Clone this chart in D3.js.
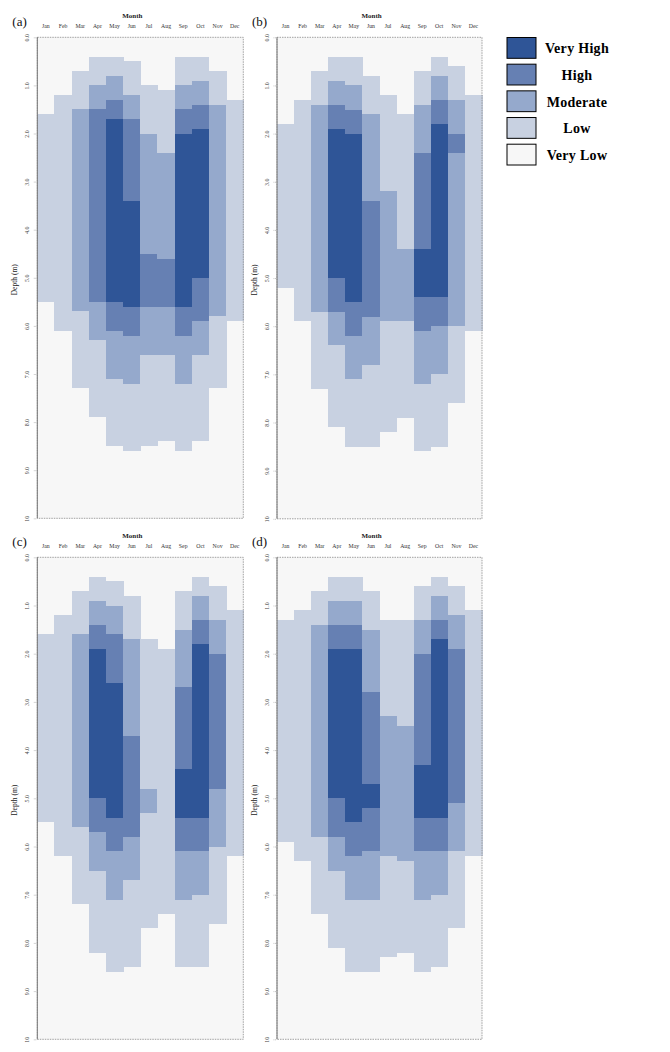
<!DOCTYPE html>
<html>
<head>
<meta charset="utf-8">
<script src="https://cdn.jsdelivr.net/npm/d3@7/dist/d3.min.js"></script>
<style>
  html, body { margin: 0; padding: 0; background: #ffffff; }
  svg { display: block; }
  text { font-family: "Liberation Serif", "DejaVu Serif", serif; }
</style>
</head>
<body>
<div id="chart"></div>
<script>
// ---------------- data ----------------
const months = ["Jan","Feb","Mar","Apr","May","Jun","Jul","Aug","Sep","Oct","Nov","Dec"];
const levelNames = ["Very Low","Low","Moderate","High","Very High"];
const levelColors = ["#f7f7f7","#c8d1e1","#95a9cc","#6680b3","#2f5597"];
const depthTicks = [0,1,2,3,4,5,6,7,8,9,10];
const depthTickLabels = ["0.0","1.0","2.0","3.0","4.0","5.0","6.0","7.0","8.0","9.0","10"];
const panelLabels = ["(a)","(b)","(c)","(d)"];

// each month: [level, depth where this level ends], from the surface down
const profileA = [
  [[0,1.6],[1,5.5],[0,10]],
  [[0,1.2],[1,6.1],[0,10]],
  [[0,0.7],[1,1.5],[2,5.7],[1,7.3],[0,10]],
  [[0,0.4],[1,1.0],[2,1.5],[3,5.5],[2,6.3],[1,7.9],[0,10]],
  [[0,0.4],[1,0.8],[2,1.3],[3,1.7],[4,5.5],[3,6.1],[2,7.1],[1,8.5],[0,10]],
  [[0,0.5],[1,1.2],[2,1.7],[3,3.4],[4,5.6],[3,6.2],[2,7.2],[1,8.6],[0,10]],
  [[0,1.0],[1,2.0],[2,4.5],[3,5.6],[2,6.6],[1,8.5],[0,10]],
  [[0,1.1],[1,2.4],[2,4.6],[3,5.6],[2,6.6],[1,8.4],[0,10]],
  [[0,0.4],[1,1.0],[2,1.5],[3,2.0],[4,5.6],[3,6.2],[2,7.2],[1,8.6],[0,10]],
  [[0,0.4],[1,0.9],[2,1.4],[3,1.9],[4,5.0],[3,5.9],[2,6.6],[1,8.4],[0,10]],
  [[0,0.7],[1,1.4],[2,5.8],[1,7.3],[0,10]],
  [[0,1.3],[1,5.9],[0,10]]
];
const profileB = [
  [[0,1.8],[1,5.2],[0,10]],
  [[0,1.3],[1,5.9],[0,10]],
  [[0,0.7],[1,1.4],[2,5.7],[1,7.3],[0,10]],
  [[0,0.4],[1,0.9],[2,1.4],[3,1.9],[4,5.0],[3,5.7],[2,6.4],[1,8.1],[0,10]],
  [[0,0.4],[1,1.0],[2,1.5],[3,2.0],[4,5.5],[3,6.2],[2,7.1],[1,8.5],[0,10]],
  [[0,0.8],[1,1.6],[2,3.4],[3,5.8],[2,6.8],[1,8.5],[0,10]],
  [[0,1.2],[1,3.2],[2,5.9],[1,8.2],[0,10]],
  [[0,1.6],[1,4.4],[2,5.9],[1,7.9],[0,10]],
  [[0,0.7],[1,1.4],[2,2.4],[3,4.4],[4,5.4],[3,6.1],[2,7.2],[1,8.6],[0,10]],
  [[0,0.4],[1,0.8],[2,1.3],[3,1.8],[4,5.4],[3,6.0],[2,7.0],[1,8.5],[0,10]],
  [[0,0.6],[1,1.3],[2,2.0],[3,2.4],[2,6.0],[1,7.6],[0,10]],
  [[0,1.2],[1,6.1],[0,10]]
];
const profileC = [
  [[0,1.6],[1,5.5],[0,10]],
  [[0,1.2],[1,6.2],[0,10]],
  [[0,0.7],[1,1.6],[2,5.6],[1,7.2],[0,10]],
  [[0,0.4],[1,0.9],[2,1.4],[3,1.9],[4,5.0],[3,5.7],[2,6.5],[1,8.2],[0,10]],
  [[0,0.5],[1,1.0],[2,1.6],[3,2.6],[4,5.4],[3,6.1],[2,7.1],[1,8.6],[0,10]],
  [[0,0.8],[1,1.7],[2,3.7],[3,5.8],[2,6.7],[1,8.5],[0,10]],
  [[0,1.7],[1,4.8],[2,5.3],[1,7.7],[0,10]],
  [[0,1.9],[1,7.4],[0,10]],
  [[0,0.7],[1,1.5],[2,2.7],[3,4.4],[4,5.4],[3,6.1],[2,7.1],[1,8.5],[0,10]],
  [[0,0.4],[1,0.8],[2,1.3],[3,1.8],[4,5.4],[3,6.1],[2,7.0],[1,8.5],[0,10]],
  [[0,0.6],[1,1.3],[2,2.0],[3,4.8],[2,6.0],[1,7.6],[0,10]],
  [[0,1.1],[1,6.2],[0,10]]
];
const profileD = [
  [[0,1.3],[1,5.9],[0,10]],
  [[0,1.1],[1,6.3],[0,10]],
  [[0,0.7],[1,1.4],[2,5.8],[1,7.4],[0,10]],
  [[0,0.4],[1,0.9],[2,1.4],[3,1.9],[4,5.0],[3,5.8],[2,6.5],[1,8.1],[0,10]],
  [[0,0.4],[1,0.9],[2,1.4],[3,1.9],[4,5.5],[3,6.2],[2,7.1],[1,8.6],[0,10]],
  [[0,0.7],[1,1.5],[2,2.8],[3,4.7],[4,5.2],[3,6.1],[2,7.1],[1,8.6],[0,10]],
  [[0,1.3],[1,3.3],[2,6.2],[1,8.3],[0,10]],
  [[0,1.3],[1,3.5],[2,6.3],[1,8.2],[0,10]],
  [[0,0.6],[1,1.3],[2,2.0],[3,4.3],[4,5.4],[3,6.1],[2,7.1],[1,8.6],[0,10]],
  [[0,0.4],[1,0.8],[2,1.3],[3,1.7],[4,5.4],[3,6.1],[2,7.0],[1,8.5],[0,10]],
  [[0,0.6],[1,1.2],[2,1.9],[3,5.1],[2,6.1],[1,7.7],[0,10]],
  [[0,1.1],[1,6.2],[0,10]]
];
const profiles = [profileA, profileB, profileC, profileD];

// ---------------- layout ----------------
const W = 670, H = 1052;
const panelBoxes = [
  {x: 37.3, y: 37.3, w: 206, h: 481},
  {x: 277,  y: 37.3, w: 205, h: 481.5},
  {x: 37.3, y: 557.3, w: 206, h: 482},
  {x: 277,  y: 557.3, w: 205, h: 482}
];

const svg = d3.select("#chart").append("svg")
  .attr("width", W).attr("height", H);

panelBoxes.forEach((b, pi) => {
  const g = svg.append("g");
  const x = d3.scaleBand().domain(months).range([b.x, b.x + b.w]);
  const y = d3.scaleLinear().domain([0, 10]).range([b.y, b.y + b.h]);

  // background (Very Low)
  g.append("rect")
    .attr("x", b.x).attr("y", b.y).attr("width", b.w).attr("height", b.h)
    .attr("fill", levelColors[0]);

  // cells
  const cells = [];
  profiles[pi].forEach((prof, mi) => {
    let start = 0;
    prof.forEach(([lvl, end]) => {
      if (lvl > 0) cells.push({m: months[mi], lvl, d0: start, d1: end});
      start = end;
    });
  });
  g.append("g").attr("shape-rendering", "crispEdges")
    .selectAll("rect").data(cells).join("rect")
    .attr("x", d => x(d.m))
    .attr("y", d => y(d.d0))
    .attr("width", x.bandwidth() + 0.5)
    .attr("height", d => y(d.d1) - y(d.d0))
    .attr("fill", d => levelColors[d.lvl]);

  // frame: dotted grey, left solid
  g.append("rect")
    .attr("x", b.x).attr("y", b.y).attr("width", b.w).attr("height", b.h)
    .attr("fill", "none").attr("stroke", "#8a8a8a").attr("stroke-width", 0.8)
    .attr("stroke-dasharray", "1.5,1");
  g.append("line")
    .attr("x1", b.x).attr("x2", b.x).attr("y1", b.y).attr("y2", b.y + b.h)
    .attr("stroke", "#777").attr("stroke-width", 1);

  // top month labels
  const xAxis = d3.axisTop(x).tickSize(0).tickPadding(0);
  const xa = g.append("g").attr("transform", `translate(0,${b.y - 9})`).call(xAxis);
  xa.select(".domain").remove();
  xa.selectAll("text")
    .attr("font-family", "Liberation Serif").attr("font-size", 5.8)
    .attr("fill", "#333");

  // "Month" title
  g.append("text")
    .attr("x", b.x + b.w / 2 - 8).attr("y", b.y - 19.5)
    .attr("text-anchor", "middle")
    .attr("font-size", 7).attr("font-weight", "bold").attr("fill", "#222")
    .text("Month");

  // panel label
  g.append("text")
    .attr("x", b.x - 25).attr("y", b.y - 11)
    .attr("font-size", 13).attr("fill", "#111")
    .text(panelLabels[pi]);

  // y axis with rotated labels
  const yAxis = d3.axisLeft(y).tickValues(depthTicks)
    .tickFormat((d, i) => depthTickLabels[i]).tickSize(2.5).tickPadding(0);
  const ya = g.append("g").attr("transform", `translate(${b.x - 1},0)`).call(yAxis);
  ya.select(".domain").remove();
  ya.selectAll(".tick line").attr("stroke", "#999").attr("stroke-width", 0.6)
    .attr("stroke-dasharray", "1,0.6");
  ya.selectAll(".tick text")
    .attr("font-family", "Liberation Serif").attr("font-size", 5.8).attr("fill", "#444")
    .attr("text-anchor", "middle")
    .attr("x", 0).attr("dy", 0)
    .attr("transform", "translate(-9.5,0) rotate(-90)")
    .attr("dominant-baseline", "central");

  // y title
  g.append("text")
    .attr("transform", `translate(${b.x - 23},${b.y + b.h / 2 + 2}) rotate(-90)`)
    .attr("text-anchor", "middle").attr("dominant-baseline", "central")
    .attr("font-size", 7.5).attr("fill", "#222")
    .text("Depth (m)");
});

// ---------------- legend ----------------
const legendOrder = [4, 3, 2, 1, 0];
const ly = d3.scaleBand().domain(legendOrder).range([37.5, 165]).paddingInner(0.22).paddingOuter(0);
const legend = svg.append("g");
legend.selectAll("rect").data(legendOrder).join("rect")
  .attr("x", 507).attr("y", d => ly(d))
  .attr("width", 29).attr("height", ly.bandwidth())
  .attr("fill", d => levelColors[d])
  .attr("stroke", "#000").attr("stroke-width", 1);
legend.selectAll("text").data(legendOrder).join("text")
  .attr("x", 577).attr("y", d => ly(d) + ly.bandwidth() / 2 + 1)
  .attr("text-anchor", "middle").attr("dominant-baseline", "central")
  .attr("font-size", 14).attr("font-weight", "bold").attr("letter-spacing", 0.3)
  .attr("fill", "#000")
  .text(d => levelNames[d]);
</script>
</body>
</html>
